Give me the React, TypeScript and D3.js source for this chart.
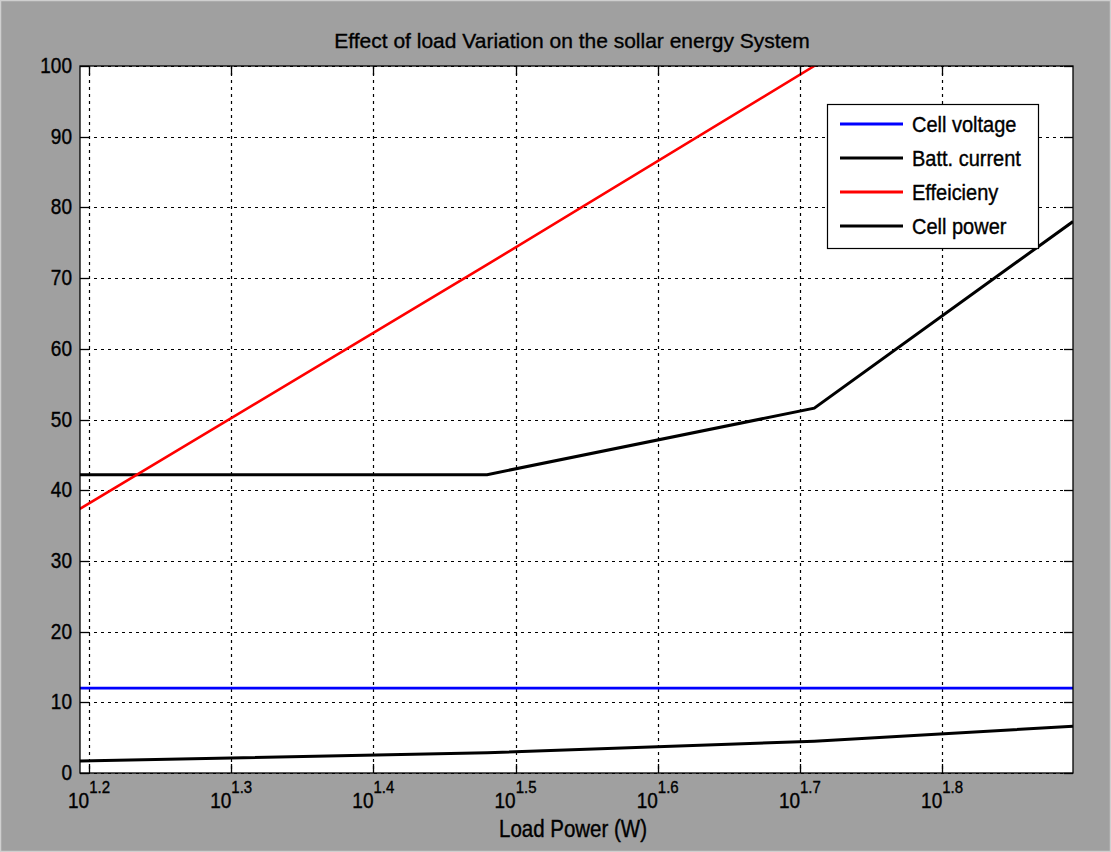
import React, { useEffect, useRef } from 'react';
import * as d3 from 'd3';

// Load power samples (W) and the series
const loadPower = [15.6, 30.2, 51.3, 78];
const cellVoltage = [12, 12, 12, 12];
const battCurrent = [42.2, 42.2, 51.6, 78];
const efficiency = [37.3, 71.9, 100, 121.7];
const cellPower = [1.7, 2.85, 4.5, 6.6];

const xTickExps = ['1.2', '1.3', '1.4', '1.5', '1.6', '1.7', '1.8'];
const yTicks = [0, 10, 20, 30, 40, 50, 60, 70, 80, 90, 100];

const seriesNames = ['Cell voltage', 'Batt. current', 'Effeicieny', 'Cell power'];
const seriesColors = ['#0000ff', '#000000', '#ff0000', '#000000'];

const W = 1111;
const H = 852;
const FONT = '"Liberation Sans", Arial, sans-serif';

const App = () => {
  const ref = useRef<SVGSVGElement>(null);

  useEffect(() => {
    if (!ref.current) return;
    const svg = d3.select(ref.current);
    svg.selectAll('*').remove();

    const left = 80, right = 1073, top = 66, bottom = 773;

    // figure background
    svg.append('rect').attr('width', W).attr('height', H).attr('fill', '#a0a0a0');
    svg.append('rect').attr('x', 0.5).attr('y', 0.5).attr('width', W - 1).attr('height', H - 1)
      .attr('fill', 'none').attr('stroke', '#cfcfcf').attr('stroke-width', 1.5);

    const x = d3.scaleLog().domain([15.62, 78]).range([left, right]);
    const y = d3.scaleLinear().domain([0, 100]).range([bottom, top]);

    svg.append('rect').attr('x', left).attr('y', top)
      .attr('width', right - left).attr('height', bottom - top).attr('fill', '#fff');

    const xTickVals = xTickExps.map((e) => Math.pow(10, +e));

    // grid
    const grid = svg.append('g').attr('stroke', '#000').attr('stroke-width', 1.2)
      .attr('stroke-dasharray', '3,4');
    xTickVals.forEach((v) => {
      grid.append('line').attr('x1', Math.round(x(v)) + 0.5).attr('x2', Math.round(x(v)) + 0.5)
        .attr('y1', top).attr('y2', bottom);
    });
    yTicks.forEach((v) => {
      grid.append('line').attr('y1', Math.round(y(v)) + 0.5).attr('y2', Math.round(y(v)) + 0.5)
        .attr('x1', left).attr('x2', right);
    });

    // data lines
    svg.append('clipPath').attr('id', 'plotclip').append('rect')
      .attr('x', left).attr('y', top).attr('width', right - left).attr('height', bottom - top);

    const line = d3.line<[number, number]>().x((d) => x(d[0])).y((d) => y(d[1]));
    const allSeries = [cellVoltage, battCurrent, efficiency, cellPower];
    const plot = svg.append('g').attr('clip-path', 'url(#plotclip)');
    allSeries.forEach((vals, i) => {
      plot.append('path')
        .datum(loadPower.map((p, j) => [p, vals[j]] as [number, number]))
        .attr('fill', 'none')
        .attr('stroke', seriesColors[i])
        .attr('stroke-width', i === 1 || i === 3 ? 3 : 2.6)
        .attr('d', line);
    });

    // axes box + inward ticks
    const ax = svg.append('g').attr('stroke', '#000').attr('stroke-width', 1.3);
    ax.append('rect').attr('x', left).attr('y', top).attr('width', right - left)
      .attr('height', bottom - top).attr('fill', 'none');
    xTickVals.forEach((v) => {
      const px = Math.round(x(v)) + 0.5;
      ax.append('line').attr('x1', px).attr('x2', px).attr('y1', bottom).attr('y2', bottom - 9);
      ax.append('line').attr('x1', px).attr('x2', px).attr('y1', top).attr('y2', top + 9);
    });
    yTicks.forEach((v) => {
      const py = Math.round(y(v)) + 0.5;
      ax.append('line').attr('x1', left).attr('x2', left + 9).attr('y1', py).attr('y2', py);
      ax.append('line').attr('x1', right).attr('x2', right - 9).attr('y1', py).attr('y2', py);
    });

    const stretch = (g: d3.Selection<SVGGElement, unknown, null, undefined>, cx: number, cy: number, s = 1.15) =>
      g.attr('transform', `translate(${cx},${cy}) scale(1,${s})`)
        .attr('stroke', '#000').attr('stroke-width', 0.35);

    // y tick labels
    yTicks.forEach((v) => {
      const g = svg.append('g');
      stretch(g, 72, y(v) + 7);
      g.append('text').attr('text-anchor', 'end').attr('font-family', FONT)
        .attr('font-size', 19).attr('fill', '#000').text(v);
    });

    // x tick labels: 10^e
    xTickVals.forEach((v, i) => {
      const g = svg.append('g');
      stretch(g, x(v), 808);
      const t = g.append('text').attr('font-family', FONT).attr('fill', '#000')
        .attr('text-anchor', 'middle');
      t.append('tspan').attr('font-size', 19).text('10');
      t.append('tspan').attr('font-size', 15).attr('dy', -13).text(xTickExps[i]);
    });

    // title and x-label
    const tg = svg.append('g');
    stretch(tg, 572, 48, 1.0);
    tg.append('text').attr('text-anchor', 'middle').attr('font-family', FONT)
      .attr('font-size', 21).attr('fill', '#000')
      .text('Effect of load Variation on the sollar energy System');

    const xg = svg.append('g');
    stretch(xg, 573, 837);
    xg.append('text').attr('text-anchor', 'middle').attr('font-family', FONT)
      .attr('font-size', 20.5).attr('fill', '#000').text('Load Power (W)');

    // legend
    const lx = 827, ly = 104, lw = 211, lh = 144;
    svg.append('rect').attr('x', lx + 0.5).attr('y', ly + 0.5).attr('width', lw).attr('height', lh)
      .attr('fill', '#fff').attr('stroke', '#000').attr('stroke-width', 1.2);
    const rowY = [124, 158, 192, 226];
    seriesNames.forEach((name, i) => {
      svg.append('line').attr('x1', 840).attr('x2', 903).attr('y1', rowY[i]).attr('y2', rowY[i])
        .attr('stroke', seriesColors[i]).attr('stroke-width', 3);
      const g = svg.append('g');
      stretch(g, 912, rowY[i] + 8, 1.12);
      g.append('text').attr('font-family', FONT).attr('font-size', 20).attr('fill', '#000').text(name);
    });
  }, []);

  return (
    <svg
      ref={ref}
      width={W}
      height={H}
      style={{ position: 'absolute', left: 0, top: 0, display: 'block' }}
    />
  );
};

export default App;
